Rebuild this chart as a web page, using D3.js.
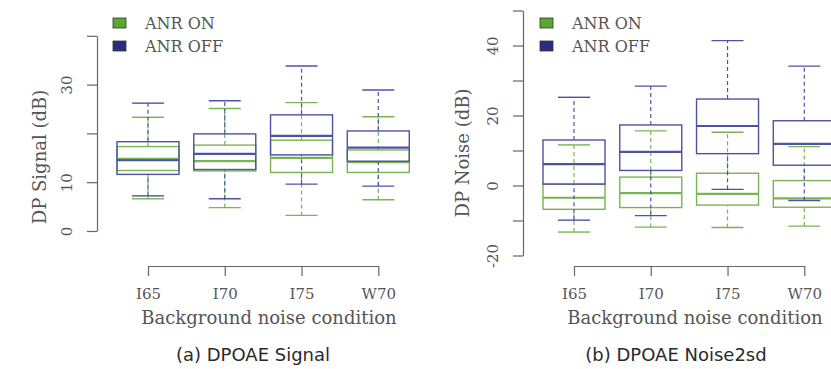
<!DOCTYPE html>
<html>
<head>
<meta charset="utf-8">
<script src="https://cdn.jsdelivr.net/npm/d3@7"></script>
<style>
  body { margin: 0; background: #fff; }
  svg { display: block; }
  .serif { font-family: "DejaVu Serif", serif; fill: #555; }
  .sans { font-family: "DejaVu Sans", sans-serif; fill: #2a2a2a; }
</style>
</head>
<body>
<div id="chart"></div>
<script>
// conditions on the x axis
const categories = ["I65", "I70", "I75", "W70"];
const seriesNames = ["ANR ON", "ANR OFF"];

// box stats per condition: [lowerWhisker, q1, median, q3, upperWhisker]
const signalOn = [
  [6.6, 12.4, 14.8, 17.3, 23.3],
  [4.8, 12.3, 14.3, 17.6, 25.1],
  [3.2, 12.0, 15.0, 18.6, 26.3],
  [6.4, 12.0, 14.1, 16.6, 23.4]
];
const signalOff = [
  [7.2, 11.6, 14.5, 18.3, 26.2],
  [6.6, 12.6, 15.8, 19.9, 26.7],
  [9.6, 15.6, 19.5, 23.8, 33.8],
  [9.2, 14.3, 17.1, 20.5, 28.9]
];
const noiseOn = [
  [-13.3, -6.8, -3.5, 0.4, 11.6],
  [-11.9, -6.3, -2.2, 2.4, 15.6],
  [-12.0, -5.6, -2.4, 3.5, 15.2],
  [-11.6, -6.2, -3.7, 1.4, 11.1]
];
const noiseOff = [
  [-9.9, 0.4, 6.1, 13.0, 25.2],
  [-8.6, 4.3, 9.6, 17.3, 28.4],
  [-1.1, 9.1, 17.0, 24.7, 41.4],
  [-4.3, 5.8, 11.9, 18.5, 34.1]
];

const signalTicks = [0, 10, 20, 30, 40];
const signalLabels = [0, 10, 30];
const noiseTicks = [-20, -10, 0, 10, 20, 30, 40, 50];
const noiseLabels = [-20, 0, 20, 40];

const W = 831, H = 369;
const lineColors = { on: "#78b552", off: "#4d52a3" };
const keyColors = { on: "#5aa82e", off: "#2a2e7c" };

const svg = d3.select("#chart").append("svg")
  .attr("width", W).attr("height", H);

function drawPanel(p) {
  const g = svg.append("g");
  const y = d3.scaleLinear().domain(p.yDomain).range(p.yRange);
  const x = d3.scalePoint().domain(categories).range(p.xRange);

  // y axis, R style: ticks out, rotated labels
  const yAxis = g.append("g")
    .attr("transform", `translate(${p.axisX},0)`)
    .call(d3.axisLeft(y).tickValues(p.ticks).tickSize(10).tickSizeOuter(0)
      .tickFormat(d => p.labels.includes(d) ? d : ""));
  yAxis.selectAll("path, line").attr("stroke", "#666").attr("stroke-width", 1.2);
  yAxis.selectAll("text")
    .attr("class", "serif")
    .attr("font-size", 15)
    .attr("text-anchor", "middle")
    .attr("x", null).attr("dy", null)
    .attr("transform", "translate(-25,0) rotate(-90)")
    .attr("y", 0);
  yAxis.attr("font-family", null).attr("font-size", null);

  // x axis
  const xAxis = g.append("g")
    .attr("transform", `translate(0,${p.axisY})`)
    .call(d3.axisBottom(x).tickSize(10).tickSizeOuter(0));
  xAxis.selectAll("path, line").attr("stroke", "#666").attr("stroke-width", 1.2);
  xAxis.selectAll("text")
    .attr("class", "serif")
    .attr("font-size", 15)
    .attr("y", 22);
  xAxis.attr("font-family", null).attr("font-size", null);

  const halfBox = 31, halfCap = 16;
  const drawBoxes = (data, color) => {
    const b = g.append("g").selectAll("g").data(data).join("g")
      .attr("transform", (d, i) => `translate(${x(categories[i])},0)`)
      .attr("fill", "none").attr("stroke", color);
    // whiskers
    b.append("line").attr("x1", 0).attr("x2", 0)
      .attr("y1", d => y(d[0])).attr("y2", d => y(d[1]))
      .attr("stroke-width", 1.2).attr("stroke-dasharray", "4,3");
    b.append("line").attr("x1", 0).attr("x2", 0)
      .attr("y1", d => y(d[3])).attr("y2", d => y(d[4]))
      .attr("stroke-width", 1.2).attr("stroke-dasharray", "4,3");
    b.selectAll(".cap").data(d => [d[0], d[4]]).join("line")
      .attr("x1", -halfCap).attr("x2", halfCap)
      .attr("y1", v => y(v)).attr("y2", v => y(v))
      .attr("stroke-width", 1.4);
    b.append("rect")
      .attr("x", -halfBox).attr("width", halfBox * 2)
      .attr("y", d => y(d[3])).attr("height", d => y(d[1]) - y(d[3]))
      .attr("stroke-width", 1.4);
    b.append("line").attr("x1", -halfBox).attr("x2", halfBox)
      .attr("y1", d => y(d[2])).attr("y2", d => y(d[2]))
      .attr("stroke-width", 2.2);
  };
  drawBoxes(p.on, lineColors.on);
  drawBoxes(p.off, lineColors.off);

  // legend
  const lg = g.append("g").attr("transform", `translate(${p.legendX},18)`);
  seriesNames.forEach((name, i) => {
    lg.append("rect").attr("x", 0).attr("y", i * 23)
      .attr("width", 13).attr("height", 10)
      .attr("fill", i === 0 ? keyColors.on : keyColors.off)
      .attr("stroke", "#333").attr("stroke-width", 0.8);
    lg.append("text").attr("class", "serif")
      .attr("x", 32).attr("y", i * 23 + 11)
      .attr("font-size", 16).text(name);
  });

  // titles
  g.append("text").attr("class", "serif")
    .attr("transform", `translate(${p.yTitleX},${p.yTitleY}) rotate(-90)`)
    .attr("text-anchor", "middle").attr("font-size", 18).text(p.yTitle);
  g.append("text").attr("class", "serif")
    .attr("x", p.xTitleX).attr("y", 324)
    .attr("text-anchor", "middle").attr("font-size", 18)
    .text("Background noise condition");
  g.append("text").attr("class", "sans")
    .attr("x", p.captionX).attr("y", 361)
    .attr("text-anchor", "middle").attr("font-size", 18).text(p.caption);
}

drawPanel({
  on: signalOn, off: signalOff,
  yDomain: [0, 40], yRange: [231, 35.8],
  ticks: signalTicks, labels: signalLabels,
  xRange: [148, 378.3], axisX: 97, axisY: 266,
  legendX: 113, yTitle: "DP Signal (dB)", yTitleX: 46, yTitleY: 157,
  xTitleX: 269, caption: "(a) DPOAE Signal", captionX: 253
});

drawPanel({
  on: noiseOn, off: noiseOff,
  yDomain: [-20, 50], yRange: [255.5, 10.5],
  ticks: noiseTicks, labels: noiseLabels,
  xRange: [574, 804.3], axisX: 523, axisY: 266,
  legendX: 540, yTitle: "DP Noise (dB)", yTitleX: 469, yTitleY: 153,
  xTitleX: 695, caption: "(b) DPOAE Noise2sd", captionX: 676
});
</script>
</body>
</html>
